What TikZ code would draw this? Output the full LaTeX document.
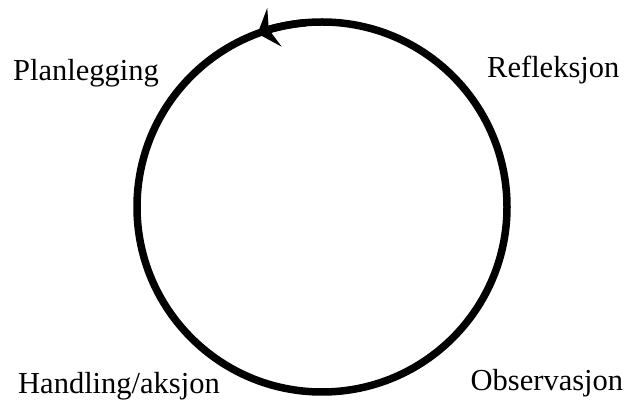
\documentclass[tikz,border=0pt]{standalone}
\usepackage{fontspec}
\setmainfont{Liberation Serif}
\usetikzlibrary{arrows.meta}
\tikzset{
  cycleline/.style={line width=7.5pt, black},
  lbl/.style={anchor=base west, inner sep=0pt, font=\fontsize{30.5pt}{32pt}\selectfont}
}
\begin{document}
\begin{tikzpicture}[x=1pt,y=1pt]
\useasboundingbox (0,0) rectangle (631,401);
\coordinate (c) at (322,194);
\draw[cycleline] (c) circle[radius=185];
\draw[cycleline, -{Stealth[length=18pt,width=41pt,inset=6pt]}]
  ([shift={(95:185pt)}]c) arc[start angle=95, end angle=110.4, radius=185pt] coordinate (tip);
\node[lbl] (plan) at (13,320) {Planlegging};
\node[lbl] (refl) at (487,323) {Refleksjon};
\node[lbl] (hand) at (18,7.5) {Handling/aksjon};
\node[lbl] (obs) at (470.5,10) {Observasjon};
\end{tikzpicture}
\end{document}
